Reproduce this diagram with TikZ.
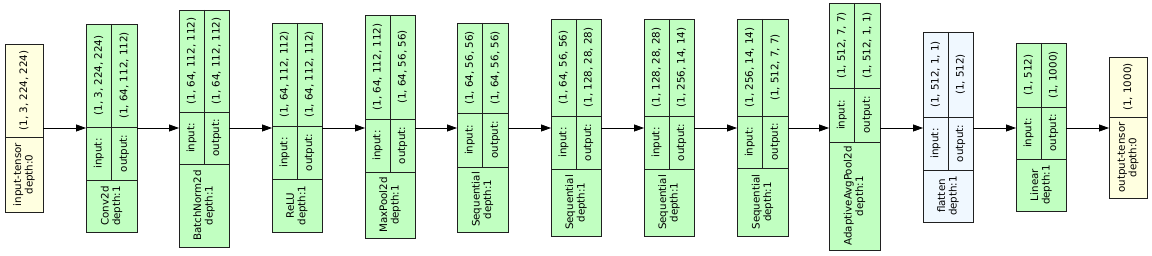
\documentclass[tikz,border=0pt]{standalone}
\usepackage{fontspec}
\setmainfont{DejaVu Sans}
\usetikzlibrary{arrows.meta}
\definecolor{gvgreen}{HTML}{C1FFC1}
\definecolor{gvyellow}{HTML}{FFFFE0}
\definecolor{gvblue}{HTML}{F0F8FF}
\definecolor{gvline}{HTML}{202020}
\tikzset{
  modbox/.style={draw=gvline,line width=0.9pt,rectangle,inner sep=0pt,outer sep=0pt},
  cellline/.style={draw=gvline,line width=0.9pt},
  celltxt/.style={rotate=90,inner sep=0pt,font=\fontsize{10.3}{11.5}\selectfont},
  arr/.style={draw=black,line width=0.8pt,-{Triangle[length=10pt,width=7pt]}}
}
\newcommand\gvbox[9]{%
  \node[modbox,fill=#8,minimum width={(#3-#2)*1pt},minimum height={(#7-#4)*1pt}] (#1) at ({(#2+#3)/2},{(#4+#7)/2}) {};
  \draw[cellline] (#2,#5) -- (#3,#5) (#2,#6) -- (#3,#6) ({(#2+#3)/2},#4) -- ({(#2+#3)/2},#6);
  \gvtexts{#2}{#3}{#4}{#5}{#6}{#7}#9}
\newcommand\gvtexts[9]{%
  \node[celltxt] at ({(3*#1+#2)/4},{(#3+#4)/2}) {#7};
  \node[celltxt] at ({(#1+3*#2)/4},{(#3+#4)/2}) {#8};
  \node[celltxt] at ({(3*#1+#2)/4},{(#4+#5)/2}) {input:};
  \node[celltxt] at ({(#1+3*#2)/4},{(#4+#5)/2}) {output:};
  \node[celltxt,align=center] at ({(#1+#2)/2},{(#5+#6)/2}) {#9};}
\newcommand\gvtensor[8]{%
  \node[modbox,fill=gvyellow,minimum width={(#3-#2)*1pt},minimum height={(#6-#4)*1pt}] (#1) at ({(#2+#3)/2},{(#4+#6)/2}) {};
  \draw[cellline] (#2,#5) -- (#3,#5);
  \node[celltxt] at ({(#2+#3)/2},{(#4+#5)/2}) {#7};
  \node[celltxt,align=center] at ({(#2+#3)/2},{(#5+#6)/2}) {#8};}
\begin{document}
\begin{tikzpicture}[x=1pt,y=-1pt]
\useasboundingbox[fill=white] (0,0) rectangle (1152,256);
\gvtensor{t0}{5}{43}{44}{137}{212}{(1, 3, 224, 224)}{input-tensor\\depth:0}
\gvbox{m1}{86}{137}{24}{127}{180}{232}{gvgreen}{{(1, 3, 224, 224)}{(1, 64, 112, 112)}{Conv2d\\depth:1}}
\gvbox{m2}{179}{229}{10}{112}{164}{247}{gvgreen}{{(1, 64, 112, 112)}{(1, 64, 112, 112)}{BatchNorm2d\\depth:1}}
\gvbox{m3}{272}{322}{23}{126}{179}{232}{gvgreen}{{(1, 64, 112, 112)}{(1, 64, 112, 112)}{ReLU\\depth:1}}
\gvbox{m4}{365}{415}{15}{119}{172}{238}{gvgreen}{{(1, 64, 112, 112)}{(1, 64, 56, 56)}{MaxPool2d\\depth:1}}
\gvbox{m5}{457}{508}{23}{113}{167}{232}{gvgreen}{{(1, 64, 56, 56)}{(1, 64, 56, 56)}{Sequential\\depth:1}}
\gvbox{m6}{551}{601}{19}{116}{169}{236}{gvgreen}{{(1, 64, 56, 56)}{(1, 128, 28, 28)}{Sequential\\depth:1}}
\gvbox{m7}{644}{694}{19}{116}{169}{236}{gvgreen}{{(1, 128, 28, 28)}{(1, 256, 14, 14)}{Sequential\\depth:1}}
\gvbox{m8}{737}{788}{19}{116}{168}{236}{gvgreen}{{(1, 256, 14, 14)}{(1, 512, 7, 7)}{Sequential\\depth:1}}
\gvbox{m9}{829}{880}{3}{88}{142}{250}{gvgreen}{{(1, 512, 7, 7)}{(1, 512, 1, 1)}{AdaptiveAvgPool2d\\depth:1}}
\gvbox{m10}{923}{973}{32}{117}{170}{222}{gvblue}{{(1, 512, 1, 1)}{(1, 512)}{flatten\\depth:1}}
\gvbox{m11}{1016}{1066}{43}{107}{159}{211}{gvgreen}{{(1, 512)}{(1, 1000)}{Linear\\depth:1}}
\gvtensor{t1}{1109}{1147}{57}{117}{198}{(1, 1000)}{output-tensor\\depth:0}
\foreach \a/\b in {t0/m1,m1/m2,m2/m3,m3/m4,m4/m5,m5/m6,m6/m7,m7/m8,m8/m9,m9/m10,m10/m11,m11/t1}
  \draw[arr] (\a.east |- 0,128) -- (\b.west |- 0,128);
\end{tikzpicture}
\end{document}
